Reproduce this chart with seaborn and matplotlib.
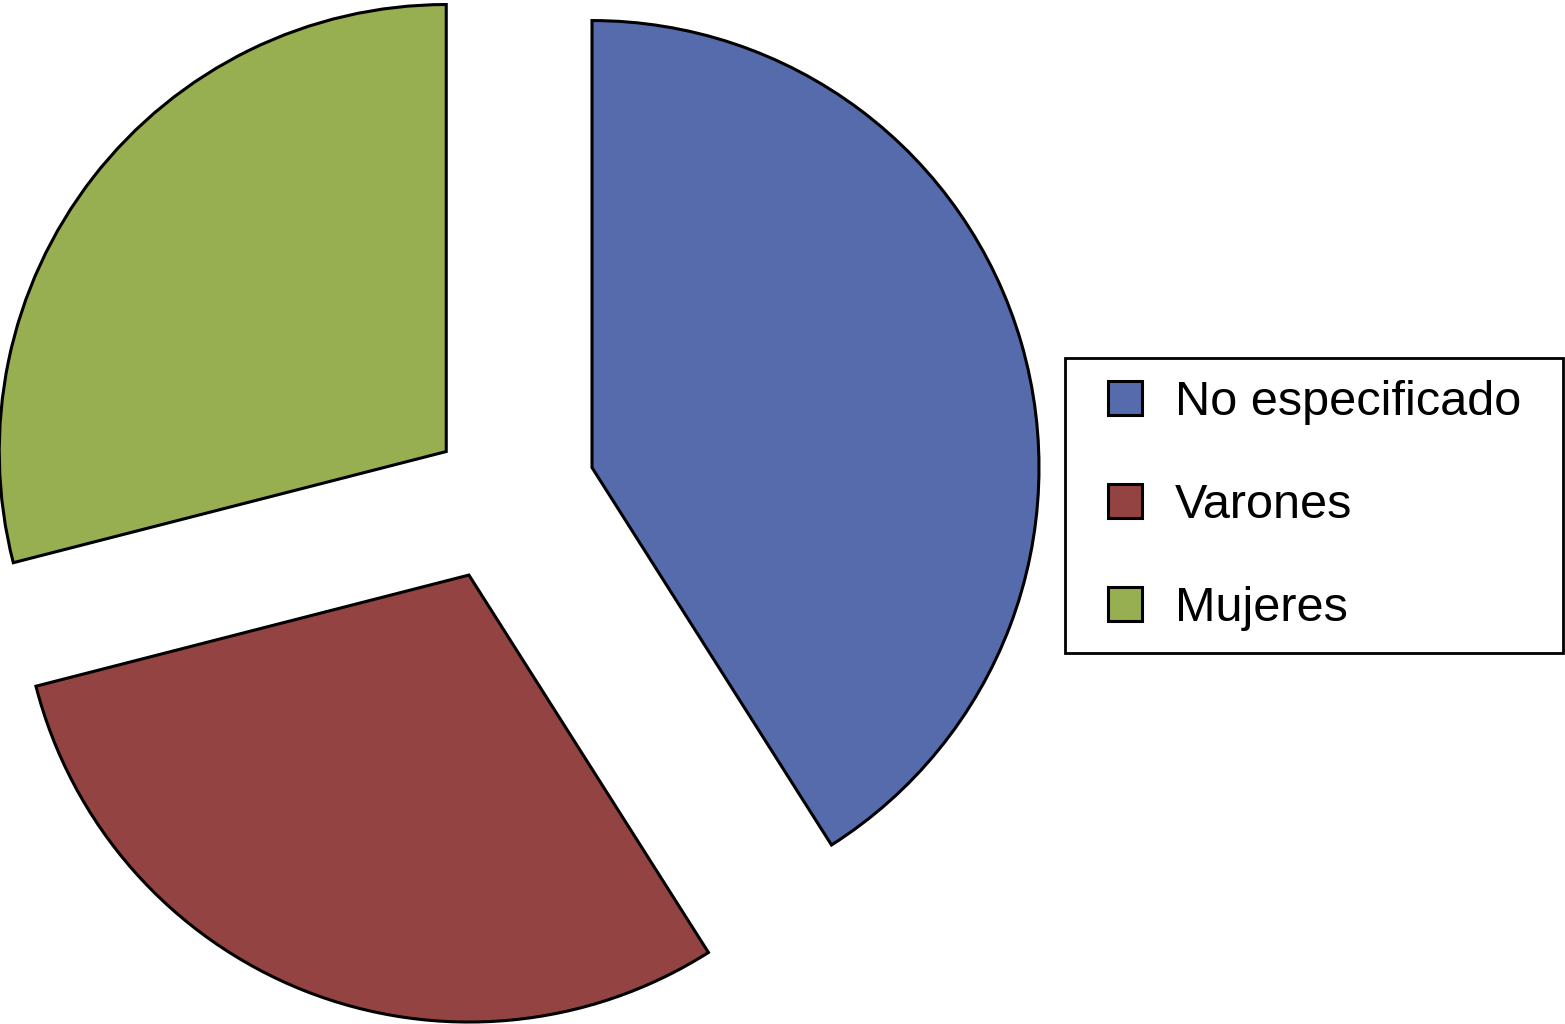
import matplotlib
matplotlib.use("Agg")
import matplotlib.pyplot as plt
import matplotlib.patches as mpatches
from matplotlib.legend_handler import HandlerPatch
import seaborn as sns

# data (shares in %)
labels = ["No especificado", "Varones", "Mujeres"]
values = [41, 30, 29]
colors = ["#566BAB", "#934341", "#97AE51"]
explode = [0.212, 0.195, 0.155]

sns.set_theme(style="white")
plt.rcParams["font.family"] = ["Liberation Sans", "DejaVu Sans"]

W, H = 1565, 1024
fig = plt.figure(figsize=(W / 100, H / 100), dpi=100)
ax = fig.add_axes([0, 0, 1, 1])

wedges, _ = ax.pie(values, colors=colors, explode=explode, startangle=90,
                   counterclock=False, radius=1.0,
                   wedgeprops=dict(edgecolor="black", linewidth=2.2))

# pie placement: 447 px per unit, centre at (501, 494) px
scale, cx, cy = 447, 501, 494
ax.set_xlim(-cx / scale, (W - cx) / scale)
ax.set_ylim(-(H - cy) / scale, cy / scale)
ax.set_aspect("equal")
ax.axis("off")


def square_right(legend, orig_handle, xdescent, ydescent, width, height, fontsize):
    # square marker pushed to the right side of the handle box
    return mpatches.Rectangle((width - height - xdescent, -ydescent), height, height)


leg = fig.legend(wedges, labels, loc="upper left",
                 bbox_to_anchor=(1065 / W, 1 - 652 / H, 498 / W, 294 / H),
                 mode="expand", fontsize=35, frameon=True, fancybox=False,
                 framealpha=1, handlelength=1.12, handleheight=0.7,
                 handletextpad=0.68, labelspacing=1.19, borderpad=0.46,
                 borderaxespad=0,
                 handler_map={mpatches.Wedge: HandlerPatch(patch_func=square_right)})
leg.get_frame().set_edgecolor("black")
leg.get_frame().set_linewidth(2)
for t in leg.get_texts():
    t.set_color("black")
for h in leg.legend_handles:
    h.set_edgecolor("black")
    h.set_linewidth(2.2)

fig.savefig("out.png", dpi=100)
